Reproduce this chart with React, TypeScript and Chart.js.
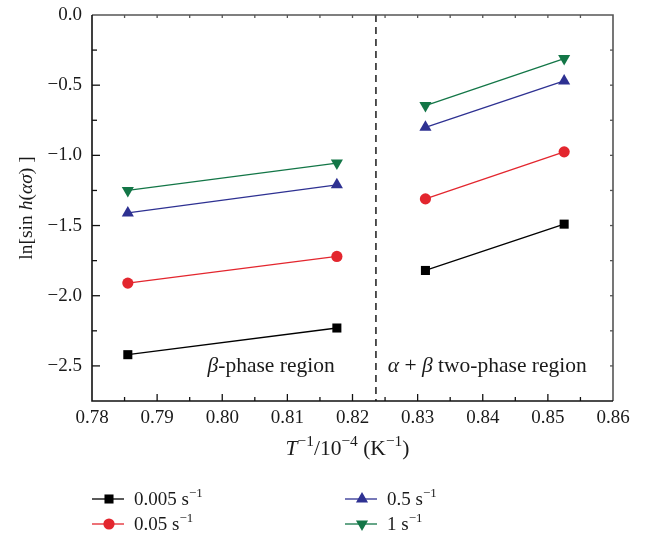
import React, { useEffect, useRef } from 'react';
import { Chart, registerables } from 'chart.js';

Chart.register(...registerables);

// ---- data ----
const temperatureX = [0.7855, 0.8176, 0.8312, 0.8525];
const rate0005 = [-2.42, -2.23, -1.82, -1.49];
const rate005 = [-1.91, -1.72, -1.31, -0.975];
const rate05 = [-1.41, -1.21, -0.8, -0.47];
const rate1 = [-1.25, -1.055, -0.645, -0.31];
const seriesRates = ['0.005', '0.05', '0.5', '1'];
const xTickValues = [0.78, 0.79, 0.8, 0.81, 0.82, 0.83, 0.84, 0.85, 0.86];
const yTickValues = [0, -0.5, -1.0, -1.5, -2.0, -2.5];
const boundaryX = 0.8236;
const betaLabelPos = { x: 0.8075, y: -2.49 };
const alphaBetaLabelPos = { x: 0.8407, y: -2.49 };

const FONT = '"Liberation Serif", "Times New Roman", serif';
const COLORS = ['#000000', '#e3262e', '#2e3192', '#137647'];
const STYLES = ['rect', 'circle', 'triangle', 'triangle'];
const ROT = [0, 0, 0, 180];
const RADII = [6.4, 5.6, 7, 7];

type Seg = { t: string; it?: boolean; sup?: boolean };

function drawRich(ctx: CanvasRenderingContext2D, segs: Seg[], x: number, y: number, size: number, align: 'left' | 'center', supRatio = 0.68) {
  const parts = segs.map((s) => {
    const fs = s.sup ? size * supRatio : size;
    const font = `${s.it ? 'italic ' : ''}${fs}px ${FONT}`;
    ctx.font = font;
    return { ...s, font, w: ctx.measureText(s.t).width, dy: s.sup ? -size * 0.42 : 0 };
  });
  const total = parts.reduce((a, p) => a + p.w, 0);
  let cx = align === 'center' ? x - total / 2 : x;
  ctx.textAlign = 'left';
  ctx.textBaseline = 'alphabetic';
  for (const p of parts) {
    ctx.font = p.font;
    ctx.fillText(p.t, cx, y + p.dy);
    cx += p.w;
  }
}

function drawMarker(ctx: CanvasRenderingContext2D, i: number, x: number, y: number) {
  const r = RADII[i];
  ctx.fillStyle = COLORS[i];
  ctx.beginPath();
  if (STYLES[i] === 'rect') {
    const s = r / Math.SQRT2;
    ctx.rect(x - s, y - s, 2 * s, 2 * s);
  } else if (STYLES[i] === 'circle') {
    ctx.arc(x, y, r, 0, Math.PI * 2);
  } else {
    let rad = (ROT[i] * Math.PI) / 180;
    ctx.moveTo(x + Math.sin(rad) * r, y - Math.cos(rad) * r);
    rad += (2 * Math.PI) / 3;
    ctx.lineTo(x + Math.sin(rad) * r, y - Math.cos(rad) * r);
    rad += (2 * Math.PI) / 3;
    ctx.lineTo(x + Math.sin(rad) * r, y - Math.cos(rad) * r);
    ctx.closePath();
  }
  ctx.fill();
}

const decorPlugin = {
  id: 'decor',
  beforeDatasetsDraw(chart: any) {
    const ctx = chart.ctx as CanvasRenderingContext2D;
    const { top, bottom } = chart.chartArea;
    const px = chart.scales.x.getPixelForValue(boundaryX);
    ctx.save();
    ctx.strokeStyle = '#1a1a1a';
    ctx.lineWidth = 1.5;
    ctx.setLineDash([7, 5]);
    ctx.beginPath();
    ctx.moveTo(px, top);
    ctx.lineTo(px, bottom);
    ctx.stroke();
    ctx.restore();
  },
  afterDraw(chart: any) {
    const ctx = chart.ctx as CanvasRenderingContext2D;
    const { left, right, top, bottom } = chart.chartArea;
    const xs = chart.scales.x;
    const ys = chart.scales.y;
    ctx.save();
    // borders
    ctx.lineWidth = 1.6;
    ctx.strokeStyle = '#555555';
    ctx.beginPath();
    ctx.moveTo(left, top);
    ctx.lineTo(right, top);
    ctx.lineTo(right, bottom);
    ctx.stroke();
    ctx.strokeStyle = '#111111';
    ctx.beginPath();
    ctx.moveTo(left, top);
    ctx.lineTo(left, bottom);
    ctx.lineTo(right, bottom);
    ctx.stroke();
    // ticks
    ctx.lineWidth = 1.3;
    const xMin = xTickValues[0];
    const nX = (xTickValues.length - 1) * 2;
    for (let i = 1; i < nX; i++) {
      const v = xMin + i * 0.005;
      const p = xs.getPixelForValue(v);
      const len = i % 2 === 0 ? 7 : 4;
      ctx.strokeStyle = '#111111';
      ctx.beginPath();
      ctx.moveTo(p, bottom);
      ctx.lineTo(p, bottom - len);
      ctx.stroke();
      ctx.strokeStyle = '#555555';
      ctx.beginPath();
      ctx.moveTo(p, top);
      ctx.lineTo(p, top + 3);
      ctx.stroke();
    }
    for (let i = 1; i < 11; i++) {
      const v = -i * 0.25;
      const p = ys.getPixelForValue(v);
      const len = i % 2 === 0 ? 8 : 5;
      ctx.strokeStyle = '#111111';
      ctx.beginPath();
      ctx.moveTo(left, p);
      ctx.lineTo(left + len, p);
      ctx.stroke();
      ctx.strokeStyle = '#555555';
      ctx.beginPath();
      ctx.moveTo(right, p);
      ctx.lineTo(right - 3, p);
      ctx.stroke();
    }
    ctx.fillStyle = '#1a1a1a';
    // region labels
    drawRich(ctx, [{ t: 'β', it: true }, { t: '-phase region' }],
      xs.getPixelForValue(betaLabelPos.x), ys.getPixelForValue(betaLabelPos.y) + 7, 21.5, 'center');
    drawRich(ctx, [{ t: 'α', it: true }, { t: ' + ' }, { t: 'β', it: true }, { t: ' two-phase region' }],
      xs.getPixelForValue(alphaBetaLabelPos.x), ys.getPixelForValue(alphaBetaLabelPos.y) + 7, 21.5, 'center');
    // x title
    drawRich(ctx, [
      { t: 'T', it: true }, { t: '−1', sup: true }, { t: '/10' }, { t: '−4', sup: true },
      { t: ' (K' }, { t: '−1', sup: true }, { t: ')' },
    ], (left + right) / 2 - 5, 455, 21.5, 'center', 0.72);
    // y title
    ctx.save();
    ctx.translate(32, (top + bottom) / 2);
    ctx.rotate(-Math.PI / 2);
    drawRich(ctx, [
      { t: 'ln[sin ' }, { t: 'h', it: true }, { t: '(' }, { t: 'ασ', it: true }, { t: ') ]' },
    ], 0, 0, 19.5, 'center');
    ctx.restore();
    // legend
    const cols = [92, 345];
    const rows = [499, 524];
    for (let i = 0; i < 4; i++) {
      const lx = cols[Math.floor(i / 2)];
      const ly = rows[i % 2];
      ctx.strokeStyle = COLORS[i];
      ctx.lineWidth = 1.3;
      ctx.beginPath();
      ctx.moveTo(lx, ly);
      ctx.lineTo(lx + 32, ly);
      ctx.stroke();
      drawMarker(ctx, i, lx + 17, ly);
      ctx.fillStyle = '#1a1a1a';
      drawRich(ctx, [{ t: seriesRates[i] + ' s' }, { t: '−1', sup: true }], lx + 42, ly + 6, 19, 'left');
    }
    ctx.restore();
  },
};

export default function App() {
  const ref = useRef<HTMLCanvasElement | null>(null);
  useEffect(() => {
    if (!ref.current) return;
    const allSeries = [rate0005, rate005, rate05, rate1];
    const chart = new Chart(ref.current, {
      type: 'line',
      data: {
        datasets: allSeries.map((vals, i) => ({
          label: seriesRates[i],
          data: vals.map((y, j) => ({ x: temperatureX[j], y })),
          borderColor: COLORS[i],
          backgroundColor: COLORS[i],
          borderWidth: 1.3,
          pointStyle: STYLES[i] as any,
          pointRotation: ROT[i],
          pointRadius: RADII[i],
          pointBorderWidth: 0,
          pointBackgroundColor: COLORS[i],
          tension: 0,
          fill: false,
          segment: {
            borderColor: (c: any) => (c.p0DataIndex === 1 ? 'rgba(0,0,0,0)' : COLORS[i]),
          },
        })),
      },
      options: {
        animation: false,
        responsive: true,
        maintainAspectRatio: false,
        layout: { padding: { left: 0, right: 34, top: 15, bottom: 0 } },
        plugins: { legend: { display: false }, tooltip: { enabled: false } },
        scales: {
          x: {
            type: 'linear',
            min: 0.78,
            max: 0.86,
            grid: { display: false, drawTicks: false },
            border: { display: false },
            afterBuildTicks: (s: any) => { s.ticks = xTickValues.map((v) => ({ value: v })); },
            afterFit: (s: any) => { s.height = 133; s.paddingLeft = 0; s.paddingRight = 0; },
            ticks: {
              padding: 6,
              color: '#1a1a1a',
              font: { family: FONT, size: 19 },
              callback: (v: any) => Number(v).toFixed(2),
            },
          },
          y: {
            type: 'linear',
            min: -2.75,
            max: 0,
            grid: { display: false, drawTicks: false },
            border: { display: false },
            afterBuildTicks: (s: any) => { s.ticks = yTickValues.map((v) => ({ value: v })); },
            afterFit: (s: any) => { s.width = 92; s.paddingTop = 0; s.paddingBottom = 0; },
            ticks: {
              padding: 10,
              color: '#1a1a1a',
              font: { family: FONT, size: 19 },
              callback: (v: any) => (Number(v) === 0 ? '0.0' : '−' + Math.abs(Number(v)).toFixed(1)),
            },
          },
        },
      },
      plugins: [decorPlugin],
    });
    return () => chart.destroy();
  }, []);
  return (
    <div style={{ position: 'fixed', left: 0, top: 0, width: 647, height: 534, background: '#fff' }}>
      <canvas ref={ref} />
    </div>
  );
}
